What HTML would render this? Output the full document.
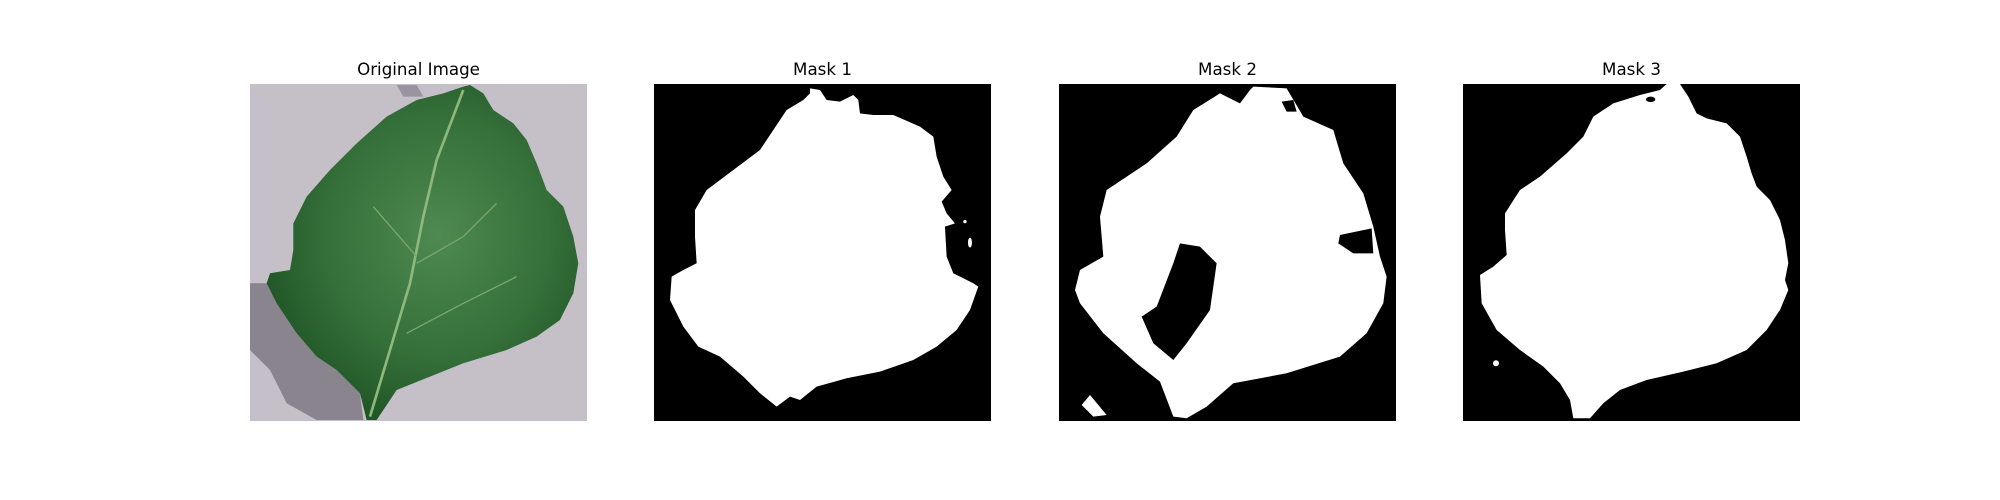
<!DOCTYPE html>
<html><head><meta charset="utf-8"><style>
html,body{margin:0;padding:0;background:#fff;width:2000px;height:500px;overflow:hidden}
svg{display:block}
text{font-family:"DejaVu Sans","Liberation Sans",sans-serif;font-size:16.7px;fill:#000}
</style></head><body>
<svg width="2000" height="500" viewBox="0 0 2000 500">
<defs>
<radialGradient id="lg" cx="0.55" cy="0.45" r="0.6">
<stop offset="0" stop-color="#4f8a52"/><stop offset="0.6" stop-color="#356f39"/><stop offset="1" stop-color="#1f5426"/>
</radialGradient>
<clipPath id="c0"><rect x="250" y="84" width="337" height="337"/></clipPath>
</defs>

<g>
<text x="418.5" y="75" text-anchor="middle">Original Image</text>
<g clip-path="url(#c0)">
<rect x="250" y="84" width="337" height="337" fill="#c5bfc7"/>
<g transform="translate(230,50) scale(0.3333)">
<polygon fill="#8a848e" points="60,700 110,700 200,850 260,920 320,960 390,1030 400,1110 260,1110 170,1060 120,960 60,900"/>
<polygon fill="#9a94a0" points="500,105 560,105 580,140 520,140"/>
<polygon fill="url(#lg)" points="720,105 760,130 790,180 850,220 890,270 920,340 950,420 1000,470 1030,560 1045,640 1030,730 990,810 920,860 830,900 700,940 600,980 500,1020 440,1110 410,1110 390,1030 320,960 260,920 200,850 140,760 110,700 120,670 180,660 190,600 190,520 230,440 300,360 380,280 470,200 560,150 640,130 700,110"/>
<polyline fill="none" stroke="#8fb87a" stroke-width="8" points="420,1100 480,900 540,700 580,500 620,330 700,120"/>
<polyline fill="none" stroke="#7aa86a" stroke-width="4" points="560,640 700,560 800,460"/>
<polyline fill="none" stroke="#7aa86a" stroke-width="4" points="530,850 700,760 860,680"/>
<polyline fill="none" stroke="#7aa86a" stroke-width="4" points="560,620 430,470"/>
</g>
</g>
</g>

<g>
<text x="822.5" y="75" text-anchor="middle">Mask 1</text>
<rect x="654" y="84" width="337" height="337" fill="#000"/>
<g transform="translate(640,50) scale(0.3333)" fill="#fff">
<polygon points="510,115 540,120 560,150 600,155 640,135 655,150 660,190 700,195 760,195 840,230 880,260 890,320 910,380 935,420 905,455 920,490 945,520 915,530 920,620 940,670 1000,700 1015,710 990,780 950,840 890,890 820,930 720,965 620,985 530,1010 480,1050 450,1040 410,1070 360,1030 310,980 240,920 175,890 130,830 90,750 95,680 130,660 170,640 165,560 165,480 200,420 280,360 360,300 400,240 440,180 490,150 510,130"/>
<circle cx="975" cy="515" r="5"/><ellipse cx="990" cy="578" rx="6" ry="15"/>
</g>
</g>

<g>
<text x="1227.5" y="75" text-anchor="middle">Mask 2</text>
<rect x="1059" y="84" width="337" height="337" fill="#000"/>
<g transform="translate(1020,50) scale(0.3333)">
<polygon fill="#fff" points="700,110 800,115 850,200 940,240 970,340 1030,430 1060,530 1080,620 1100,680 1090,760 1040,850 960,920 800,970 640,1000 560,1070 500,1105 460,1100 420,995 350,940 250,850 180,760 165,720 180,660 250,620 240,500 260,420 380,340 470,260 520,180 600,130 660,160 690,120"/>
<polygon fill="#000" points="480,580 540,590 590,640 570,780 500,880 460,930 400,880 365,800 410,770 460,640"/>
<polygon fill="#000" points="960,555 1055,535 1060,610 1000,610 955,580"/>
<polygon fill="#000" points="785,155 820,150 830,185 800,185"/>
<polygon fill="#fff" points="210,1035 260,1095 220,1100 185,1065"/>
</g>
</g>

<g>
<text x="1631.5" y="75" text-anchor="middle">Mask 3</text>
<rect x="1463" y="84" width="337" height="337" fill="#000"/>
<g transform="translate(1440,50) scale(0.3333)">
<polygon fill="#fff" points="680,102 720,102 745,140 770,190 800,205 860,220 900,260 920,320 935,370 950,410 990,450 1020,510 1035,570 1045,640 1035,690 1045,720 1020,780 980,840 920,900 830,940 730,965 620,990 540,1020 490,1060 450,1105 400,1105 390,1050 360,1000 310,950 240,900 170,840 125,760 120,675 160,650 200,615 195,540 195,490 240,420 300,380 380,310 430,260 460,200 520,160 600,135 660,120"/>
<ellipse cx="632" cy="148" rx="14" ry="8" fill="#000"/>
<circle cx="168" cy="940" r="9" fill="#fff"/>
</g>
</g>
</svg>
</body></html>
